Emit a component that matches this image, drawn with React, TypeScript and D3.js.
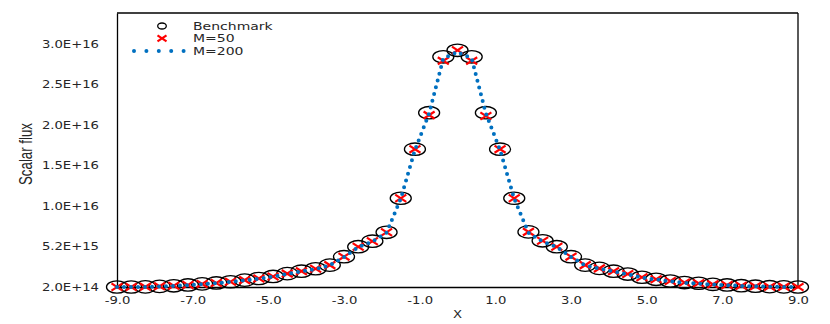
import { useEffect, useRef } from "react";
import * as d3 from "d3";

// posiciones x de las celdas (paso 0.375)
const xValues = [
  -9, -8.625, -8.25, -7.875, -7.5, -7.125, -6.75, -6.375, -6, -5.625, -5.25, -4.875, -4.5,
  -4.125, -3.75, -3.375, -3, -2.625, -2.25, -1.875, -1.5, -1.125, -0.75, -0.375, 0,
  0.375, 0.75, 1.125, 1.5, 1.875, 2.25, 2.625, 3, 3.375, 3.75, 4.125, 4.5, 4.875, 5.25,
  5.625, 6, 6.375, 6.75, 7.125, 7.5, 7.875, 8.25, 8.625, 9,
];

const benchmark = [
  2.0e14, 2.0e14, 2.2e14, 2.8e14, 3.5e14, 4.5e14, 5.8e14, 7.0e14, 8.5e14, 1.05e15, 1.25e15,
  1.5e15, 1.85e15, 2.15e15, 2.45e15, 2.9e15, 3.94e15, 5.17e15, 5.85e15, 6.95e15, 1.115e16,
  1.72e16, 2.17e16, 2.86e16, 2.94e16, 2.86e16, 2.17e16, 1.72e16, 1.115e16, 7.0e15, 5.9e15,
  5.17e15, 3.94e15, 2.9e15, 2.5e15, 2.15e15, 1.8e15, 1.4e15, 1.15e15, 9.4e14, 7.5e14,
  6.6e14, 5.3e14, 4.5e14, 3.6e14, 3.0e14, 2.4e14, 2.2e14, 2.0e14,
];

const m50 = [
  2.0e14, 2.0e14, 2.2e14, 2.8e14, 3.5e14, 4.5e14, 5.8e14, 7.0e14, 8.5e14, 1.05e15, 1.25e15,
  1.5e15, 1.85e15, 2.15e15, 2.45e15, 2.9e15, 3.94e15, 5.17e15, 5.85e15, 6.95e15, 1.115e16,
  1.72e16, 2.14e16, 2.81e16, 2.94e16, 2.81e16, 2.13e16, 1.72e16, 1.115e16, 7.0e15, 5.9e15,
  5.17e15, 3.94e15, 2.9e15, 2.5e15, 2.15e15, 1.8e15, 1.4e15, 1.15e15, 9.4e14, 7.5e14,
  6.6e14, 5.3e14, 4.5e14, 3.6e14, 3.0e14, 2.4e14, 2.2e14, 2.0e14,
];

const m200 = [
  2.0e14, 2.0e14, 2.1e14, 2.6e14, 3.3e14, 4.3e14, 5.6e14, 6.8e14, 8.3e14, 1.03e15, 1.23e15,
  1.48e15, 1.82e15, 2.12e15, 2.42e15, 2.88e15, 3.9e15, 5.12e15, 5.8e15, 6.9e15, 1.11e16,
  1.71e16, 2.16e16, 2.84e16, 2.92e16, 2.84e16, 2.16e16, 1.71e16, 1.11e16, 6.9e15, 5.8e15,
  5.12e15, 3.9e15, 2.88e15, 2.46e15, 2.12e15, 1.76e15, 1.36e15, 1.12e15, 9.1e14, 7.2e14,
  6.3e14, 5.0e14, 4.3e14, 3.4e14, 2.8e14, 2.3e14, 2.1e14, 2.0e14,
];

const xTicks = [-9, -7, -5, -3, -1, 1, 3, 5, 7, 9];
const xTickLabels = ["-9.0", "-7.0", "-5.0", "-3.0", "-1.0", "1.0", "3.0", "5.0", "7.0", "9.0"];
const yTicks = [2.0e14, 5.2e15, 1.02e16, 1.52e16, 2.02e16, 2.52e16, 3.02e16];
const yTickLabels = ["2.0E+14", "5.2E+15", "1.0E+16", "1.5E+16", "2.0E+16", "2.5E+16", "3.0E+16"];

const legendItems = ["Benchmark", "M=50", "M=200"];

const W = 830;
const H = 324;

const App = () => {
  const svgRef = useRef<SVGSVGElement | null>(null);

  useEffect(() => {
    if (!svgRef.current) return;
    const svg = d3.select(svgRef.current);
    svg.selectAll("*").remove();

    const left = 117, right = 798, top = 13, bottom = 287;
    const x = d3.scaleLinear().domain([-9, 9]).range([left, right]);
    const y = d3.scaleLinear().domain([2.0e14, 3.4e16]).range([bottom, top]);

    const tickFont = "'DejaVu Sans', Verdana, sans-serif";
    const sx = 1.2;

    // marco
    svg.append("line").attr("x1", left).attr("x2", right).attr("y1", top).attr("y2", top)
      .attr("stroke", "#000").attr("stroke-width", 1.3);
    svg.append("line").attr("x1", right).attr("x2", right).attr("y1", top).attr("y2", bottom)
      .attr("stroke", "#000").attr("stroke-width", 1.3);

    // Eje X
    const xAxis = svg.append("g")
      .attr("transform", `translate(0,${bottom})`)
      .call(d3.axisBottom(x).tickValues(xTicks)
        .tickFormat((_d, i) => xTickLabels[i]).tickSize(0).tickPadding(9));
    xAxis.select(".domain").attr("stroke", "#000").attr("stroke-width", 1.3);
    xAxis.selectAll("text")
      .attr("transform", `scale(${sx},1)`)
      .style("font-family", tickFont).style("font-size", "11px").style("fill", "#262626");

    // Eje Y
    const yAxis = svg.append("g")
      .attr("transform", `translate(${left},0)`)
      .call(d3.axisLeft(y).tickValues(yTicks)
        .tickFormat((_d, i) => yTickLabels[i]).tickSize(0).tickPadding(18 / sx));
    yAxis.select(".domain").attr("stroke", "#000").attr("stroke-width", 1.3);
    yAxis.selectAll("text")
      .attr("transform", `scale(${sx},1)`)
      .style("font-family", tickFont).style("font-size", "11px").style("fill", "#262626");

    // Etiquetas de ejes
    svg.append("text")
      .attr("transform", `translate(${(left + right) / 2},318) scale(${sx},1)`)
      .attr("text-anchor", "middle")
      .style("font-family", tickFont).style("font-size", "11px").style("fill", "#262626")
      .text("X");

    svg.append("text")
      .attr("transform", "translate(32,154) rotate(-90) scale(1,1.35)")
      .attr("text-anchor", "middle")
      .attr("textLength", 62).attr("lengthAdjust", "spacingAndGlyphs")
      .style("font-family", "'Liberation Sans Narrow', 'Liberation Sans', sans-serif")
      .style("font-size", "14px").style("fill", "#262626")
      .text("Scalar flux");

    // Benchmark: circulos
    svg.append("g").selectAll("ellipse")
      .data(xValues)
      .enter().append("ellipse")
      .attr("cx", (d) => x(d))
      .attr("cy", (_d, i) => y(benchmark[i]))
      .attr("rx", 10.5).attr("ry", 6.2)
      .attr("fill", "none").attr("stroke", "#000").attr("stroke-width", 1.3);

    // M=50: cruces
    const crossPath = (cx: number, cy: number, hw: number, hh: number) =>
      `M${cx - hw},${cy - hh}L${cx + hw},${cy + hh}M${cx - hw},${cy + hh}L${cx + hw},${cy - hh}`;

    svg.append("g").selectAll("path")
      .data(xValues)
      .enter().append("path")
      .attr("d", (d, i) => crossPath(x(d), y(m50[i]), 5.5, 3.6))
      .attr("stroke", "#ff0000").attr("stroke-width", 2.2).attr("fill", "none");

    // M=200: linea punteada
    const line = d3.line<number>()
      .x((d) => x(d))
      .y((_d, i) => y(m200[i]));
    svg.append("path")
      .datum(xValues)
      .attr("d", line)
      .attr("fill", "none").attr("stroke", "#0070c0").attr("stroke-width", 4)
      .attr("stroke-linecap", "round").attr("stroke-dasharray", "0,7");

    // Leyenda
    const legendRows = [26, 38.3, 51];
    const lg = svg.append("g");
    lg.append("ellipse").attr("cx", 162).attr("cy", legendRows[0]).attr("rx", 4.3).attr("ry", 3)
      .attr("fill", "none").attr("stroke", "#000").attr("stroke-width", 1.3);
    lg.append("path").attr("d", crossPath(162, legendRows[1], 4.5, 3))
      .attr("stroke", "#ff0000").attr("stroke-width", 2.2).attr("fill", "none");
    lg.append("line").attr("x1", 134).attr("x2", 185).attr("y1", legendRows[2]).attr("y2", legendRows[2])
      .attr("stroke", "#0070c0").attr("stroke-width", 4)
      .attr("stroke-linecap", "round").attr("stroke-dasharray", "0,12.4");
    lg.selectAll("text")
      .data(legendItems)
      .enter().append("text")
      .attr("transform", (_d, i) => `translate(193,${legendRows[i] + 3.6}) scale(1.4,1)`)
      .style("font-family", tickFont).style("font-size", "10px").style("fill", "#262626")
      .text((d) => d);
  }, []);

  return (
    <svg
      ref={svgRef}
      width={W}
      height={H}
      style={{ position: "absolute", left: 0, top: 0, background: "#fff" }}
    />
  );
};

export default App;
